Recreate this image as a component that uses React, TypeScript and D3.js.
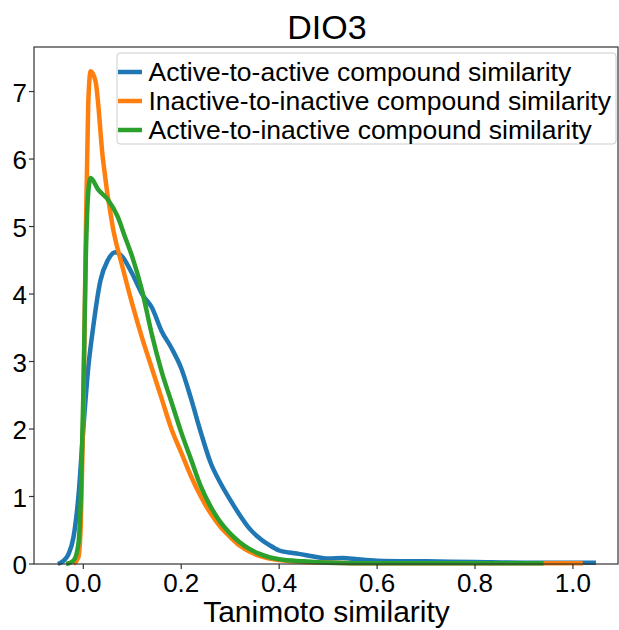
import React from "react";
import * as d3 from "d3";

const title = "DIO3";
const xLabel = "Tanimoto similarity";
const xTicks = [0.0, 0.2, 0.4, 0.6, 0.8, 1.0];
const yTicks = [0, 1, 2, 3, 4, 5, 6, 7];

const seriesNames = [
  "Active-to-active compound similarity",
  "Inactive-to-inactive compound similarity",
  "Active-to-inactive compound similarity",
];
const seriesColors = ["#1f77b4", "#ff7f0e", "#2ca02c"];

const activeX = [-0.052, -0.04, -0.03, -0.02, -0.01, 0.0, 0.01, 0.02, 0.035, 0.05, 0.065, 0.08, 0.1, 0.12, 0.14, 0.16, 0.18, 0.2, 0.22, 0.24, 0.26, 0.28, 0.3, 0.32, 0.34, 0.36, 0.38, 0.4, 0.42, 0.44, 0.47, 0.5, 0.53, 0.56, 0.6, 0.7, 0.8, 0.9, 1.0, 1.047];
const activeY = [0, 0.05, 0.15, 0.4, 1.0, 2.0, 2.9, 3.5, 4.2, 4.5, 4.62, 4.55, 4.3, 4.0, 3.8, 3.45, 3.2, 2.9, 2.45, 1.95, 1.5, 1.2, 0.95, 0.72, 0.52, 0.38, 0.28, 0.2, 0.17, 0.15, 0.11, 0.08, 0.09, 0.07, 0.05, 0.04, 0.03, 0.02, 0.02, 0.02];

const inactiveX = [-0.02, -0.01, -0.005, 0.0, 0.005, 0.01, 0.015, 0.025, 0.04, 0.06, 0.08, 0.1, 0.12, 0.14, 0.16, 0.18, 0.2, 0.22, 0.24, 0.26, 0.28, 0.3, 0.32, 0.34, 0.36, 0.38, 0.4, 0.45, 0.5, 0.6, 0.8, 1.0, 1.02];
const inactiveY = [0, 0.1, 0.6, 2.2, 4.8, 6.8, 7.3, 7.15, 6.0, 5.0, 4.4, 3.85, 3.35, 2.9, 2.45, 2.0, 1.65, 1.3, 1.0, 0.75, 0.55, 0.4, 0.27, 0.18, 0.12, 0.08, 0.06, 0.03, 0.02, 0.01, 0.01, 0.01, 0.01];

const crossX = [-0.035, -0.02, -0.01, -0.005, 0.0, 0.005, 0.01, 0.015, 0.03, 0.05, 0.07, 0.085, 0.1, 0.12, 0.14, 0.16, 0.18, 0.2, 0.22, 0.24, 0.26, 0.28, 0.3, 0.32, 0.34, 0.36, 0.38, 0.4, 0.45, 0.5, 0.6, 0.8, 0.94];
const crossY = [0, 0.05, 0.3, 1.0, 2.5, 4.5, 5.5, 5.72, 5.55, 5.4, 5.15, 4.85, 4.55, 4.05, 3.4, 2.85, 2.4, 1.95, 1.55, 1.15, 0.85, 0.62, 0.45, 0.32, 0.22, 0.15, 0.1, 0.07, 0.04, 0.02, 0.01, 0.01, 0.01];

const seriesX = [activeX, inactiveX, crossX];
const seriesY = [activeY, inactiveY, crossY];

const W = 619;
const H = 630;
const left = 34;
const right = 618;
const top = 47;
const bottom = 564;
const FONT = "'Liberation Sans', Arial, sans-serif";

export default function App() {
  const x = d3.scaleLinear().domain([-0.1007, 1.092]).range([left, right]);
  const y = d3.scaleLinear().domain([0, 7.66]).range([bottom, top]);
  const line = d3
    .line<[number, number]>()
    .x((d) => x(d[0]))
    .y((d) => y(d[1]))
    .curve(d3.curveMonotoneX);

  const legendRows = [72, 101, 130];

  return (
    <svg
      width={W}
      height={H}
      style={{ position: "absolute", left: 0, top: 0, background: "#fff" }}
      fontFamily={FONT}
    >
      <rect x={0} y={0} width={W} height={H} fill="#fff" />
      <text x={(left + right) / 2 + 1} y={38.5} textAnchor="middle" fontSize={34} fill="#000">
        {title}
      </text>
      {seriesX.map((xs, i) => (
        <path
          key={i}
          d={line(xs.map((v, j) => [v, seriesY[i][j]] as [number, number])) || ""}
          fill="none"
          stroke={seriesColors[i]}
          strokeWidth={4.5}
          strokeLinejoin="round"
          strokeLinecap="butt"
        />
      ))}
      <rect x={left} y={top} width={right - left} height={bottom - top} fill="none" stroke="#333" strokeWidth={1.2} />
      {xTicks.map((t) => (
        <g key={"x" + t}>
          <line x1={x(t)} x2={x(t)} y1={bottom} y2={bottom + 5} stroke="#333" strokeWidth={1.2} />
          <text x={x(t)} y={591.5} textAnchor="middle" fontSize={26} fill="#000">
            {t.toFixed(1)}
          </text>
        </g>
      ))}
      {yTicks.map((t) => (
        <g key={"y" + t}>
          <line x1={left - 5} x2={left} y1={y(t)} y2={y(t)} stroke="#333" strokeWidth={1.2} />
          <text x={27} y={y(t) + 10} textAnchor="end" fontSize={26} fill="#000">
            {t}
          </text>
        </g>
      ))}
      <text x={326.5} y={622} textAnchor="middle" fontSize={30} fill="#000">
        {xLabel}
      </text>
      <rect x={117} y={53} width={499} height={91} rx={3} fill="#fff" fillOpacity={0.8} stroke="#ccc" strokeWidth={1} />
      {seriesNames.map((n, i) => (
        <g key={n}>
          <line x1={118} x2={142} y1={legendRows[i]} y2={legendRows[i]} stroke={seriesColors[i]} strokeWidth={4.5} />
          <text x={148.5} y={legendRows[i] + 9} fontSize={26.5} fill="#000">
            {n}
          </text>
        </g>
      ))}
    </svg>
  );
}
